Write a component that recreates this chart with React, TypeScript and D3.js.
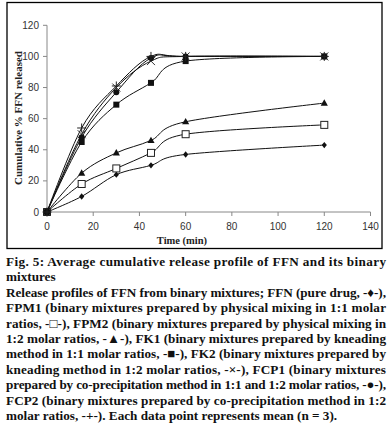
import React from "react";
import * as d3 from "d3";

const times = [0, 15, 30, 45, 60, 120];
const ffn = [0, 10, 24, 30, 37, 43];
const fpm1 = [0, 18, 28, 38, 50, 56];
const fpm2 = [0, 25, 38, 46, 58, 70];
const fk1 = [0, 45, 69, 83, 97, 100];
const fk2 = [0, 50, 80, 97, 100, 100];
const fcp1 = [0, 48, 77, 99, 100, 100];
const fcp2 = [0, 54, 81, 100, 100, 100];
const xTicks = [0, 20, 40, 60, 80, 100, 120, 140];
const yTicks = [0, 20, 40, 60, 80, 100, 120];

const series = [
  { name: "FFN", values: ffn, marker: "diamond" },
  { name: "FPM1", values: fpm1, marker: "openSquare" },
  { name: "FPM2", values: fpm2, marker: "triangle" },
  { name: "FK1", values: fk1, marker: "square" },
  { name: "FK2", values: fk2, marker: "cross" },
  { name: "FCP1", values: fcp1, marker: "circle" },
  { name: "FCP2", values: fcp2, marker: "plus" },
];

const captionLines = [
  { t: "Fig. 5: Average cumulative release profile of FFN and its binary", j: true },
  { t: "mixtures", j: false },
  { t: "Release profiles of FFN from binary mixtures; FFN (pure drug, -\u2666-),", j: true },
  { t: "FPM1 (binary mixtures prepared by physical mixing in 1:1 molar", j: true },
  { t: "ratios, -\u25A1-), FPM2 (binary mixtures prepared by physical mixing in", j: true },
  { t: "1:2 molar ratios, -\u25B2-), FK1 (binary mixtures prepared by kneading", j: true },
  { t: "method in 1:1 molar ratios, -\u25A0-), FK2 (binary mixtures prepared by", j: true },
  { t: "kneading method in 1:2 molar ratios, -\u00D7-), FCP1 (binary mixtures", j: true },
  { t: "prepared by co-precipitation method in 1:1 and 1:2 molar ratios, -\u25CF-),", j: true },
  { t: "FCP2 (binary mixtures prepared by co-precipitation method in 1:2", j: true },
  { t: "molar ratios, -+-). Each data point represents mean (n = 3).", j: false },
];

function Marker({ type, x, y }: { type: string; x: number; y: number }) {
  const s = 3;
  switch (type) {
    case "diamond":
      return <path d={`M${x},${y - 3.2}L${x + 2.6},${y}L${x},${y + 3.2}L${x - 2.6},${y}Z`} fill="#111" />;
    case "openSquare":
      return <rect x={x - 3.5} y={y - 3.5} width={7} height={7} fill="#fff" stroke="#222" strokeWidth={1} />;
    case "triangle":
      return <path d={`M${x},${y - 3.8}L${x + 3.6},${y + 2.6}L${x - 3.6},${y + 2.6}Z`} fill="#111" />;
    case "square":
      return <rect x={x - s} y={y - s} width={2 * s} height={2 * s} fill="#111" />;
    case "circle":
      return <circle cx={x} cy={y} r={3} fill="#111" />;
    case "cross":
      return <path d={`M${x - 4},${y - 4}L${x + 4},${y + 4}M${x - 4},${y + 4}L${x + 4},${y - 4}`} stroke="#333" strokeWidth={1} />;
    case "plus":
      return <path d={`M${x - 4.5},${y}L${x + 4.5},${y}M${x},${y - 4.5}L${x},${y + 4.5}`} stroke="#222" strokeWidth={1} />;
    default:
      return null;
  }
}

export default function App() {
  const x = d3.scaleLinear().domain([0, 140]).range([47, 370.5]);
  const y = d3.scaleLinear().domain([0, 120]).range([212, 25.3]);
  const line = d3
    .line<number>()
    .x((_, i) => x(times[i]))
    .y((d) => y(d))
    .curve(d3.curveCardinal.tension(0));

  const capX0 = 6;
  const capX1 = 386;
  const capY0 = 266;
  const capDy = 15.4;

  return (
    <svg
      width={390}
      height={432}
      style={{ position: "absolute", left: 0, top: 0, background: "#fff" }}
    >
      <rect x={0} y={0} width={390} height={432} fill="#fff" />
      <rect x={7} y={2.5} width={375} height={246} fill="none" stroke="#000" strokeWidth={1.3} />
      <line x1={x(0)} x2={x(0)} y1={y(0)} y2={y(120)} stroke="#888" strokeWidth={1} />
      <line x1={x(0)} x2={x(140)} y1={y(0)} y2={y(0)} stroke="#888" strokeWidth={1} />
      {yTicks.map((t) => (
        <g key={"y" + t}>
          <line x1={x(0) - 4} x2={x(0)} y1={y(t)} y2={y(t)} stroke="#888" />
          <text
            x={39}
            y={y(t)}
            dy="0.35em"
            textAnchor="end"
            fontFamily="Liberation Sans, Arial, sans-serif"
            fontSize={10}
            fill="#333"
          >
            {t}
          </text>
        </g>
      ))}
      {xTicks.map((t) => (
        <g key={"x" + t}>
          <line x1={x(t)} x2={x(t)} y1={y(0)} y2={y(0) + 4} stroke="#888" />
          <text
            x={x(t)}
            y={229.5}
            textAnchor="middle"
            fontFamily="Liberation Sans, Arial, sans-serif"
            fontSize={10}
            fill="#333"
          >
            {t}
          </text>
        </g>
      ))}
      <text
        x={182}
        y={244}
        textAnchor="middle"
        fontFamily="Liberation Serif, Times New Roman, serif"
        fontWeight="bold"
        fontSize={10.5}
        fill="#222"
      >
        Time (min)
      </text>
      <text
        transform={`translate(22,118) rotate(-90)`}
        textAnchor="middle"
        fontFamily="Liberation Serif, Times New Roman, serif"
        fontWeight="bold"
        fontSize={11}
        fill="#222"
      >
        Cumulative % FFN released
      </text>
      {series.map((s) => (
        <g key={s.name}>
          <path d={line(s.values) || ""} fill="none" stroke="#111" strokeWidth={1} />
          {s.values.map((v, i) => (
            <Marker key={i} type={s.marker} x={x(times[i])} y={y(v)} />
          ))}
        </g>
      ))}
      {captionLines.map((l, i) => (
        <text
          key={i}
          x={capX0}
          y={capY0 + i * capDy}
          fontFamily="Liberation Serif, Times New Roman, serif"
          fontWeight="bold"
          fontSize={13.2}
          fill="#111"
          {...(l.j ? { textLength: capX1 - capX0, lengthAdjust: "spacing" } : {})}
        >
          {l.t}
        </text>
      ))}
    </svg>
  );
}
